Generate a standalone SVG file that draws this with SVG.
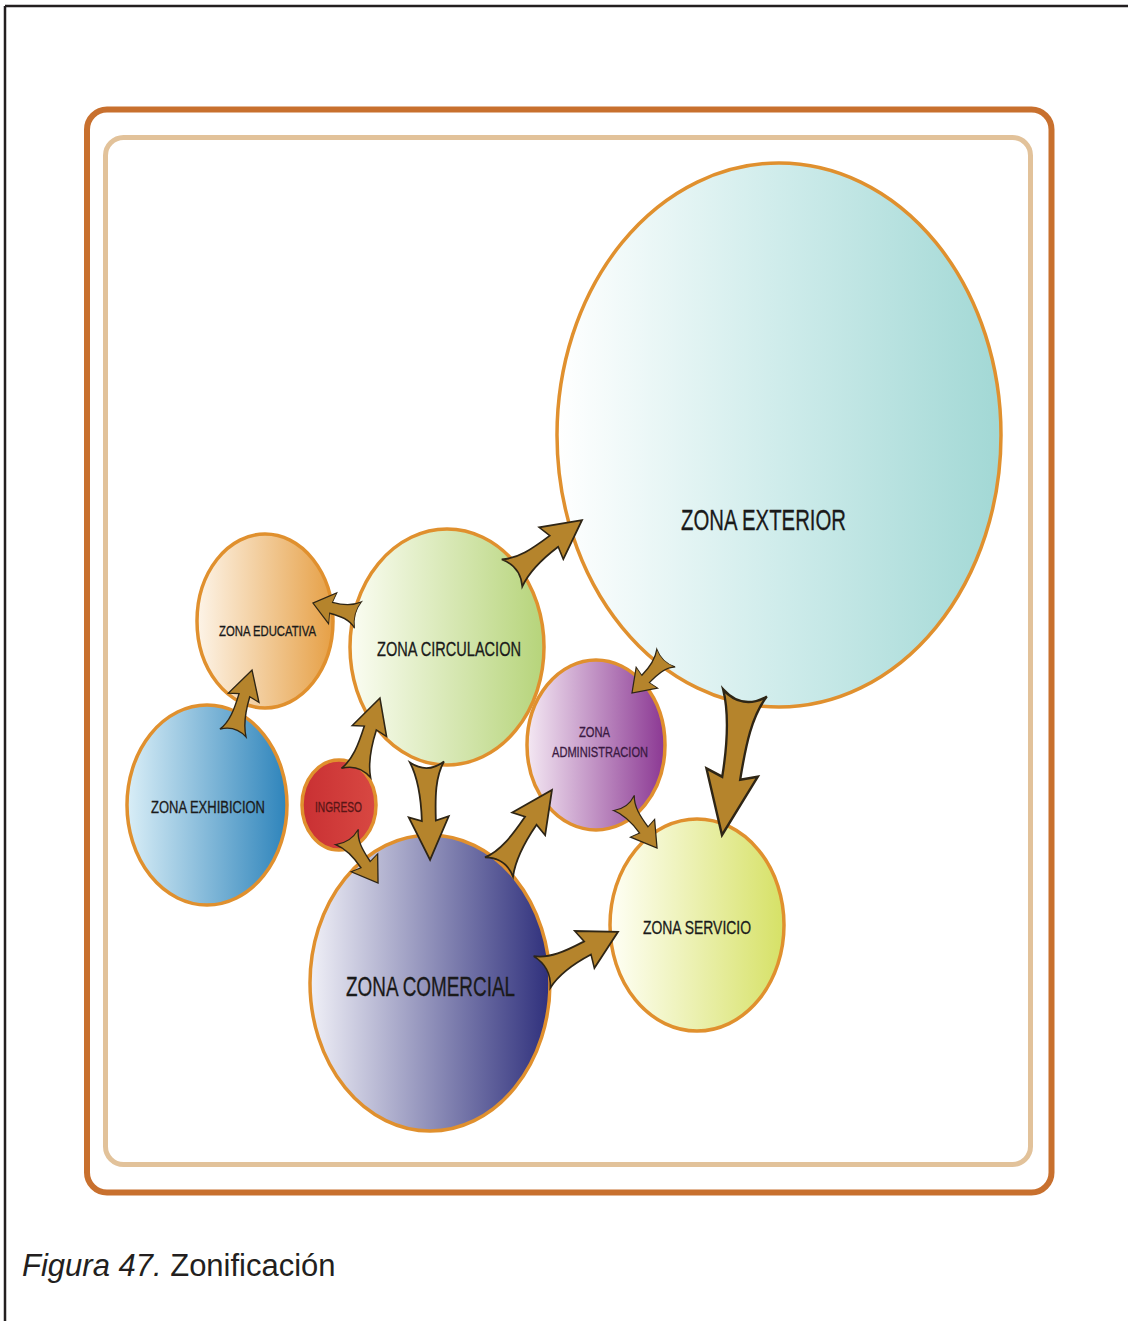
<svg xmlns="http://www.w3.org/2000/svg" xmlns:xlink="http://www.w3.org/1999/xlink" width="1128" height="1321" viewBox="0 0 1128 1321">
<style>
.zone{stroke:#e0902e;stroke-width:3.5}
.lbl{font-family:"Liberation Sans",Arial,sans-serif;fill:#1a1a1a;stroke:#1a1a1a;stroke-width:0.3;text-anchor:start}
.arr{fill:#b5842c;stroke:#2e2515;stroke-width:1.8;stroke-linejoin:miter;vector-effect:non-scaling-stroke}
.cap{font-family:"Liberation Sans",Arial,sans-serif;font-size:31px;fill:#231f20}
</style>
<defs>
<linearGradient id="gExt" x1="0" y1="0" x2="1" y2="0"><stop offset="0" stop-color="#ffffff"/><stop offset="0.5" stop-color="#cfeceb"/><stop offset="1" stop-color="#a2d8d5"/></linearGradient>
<linearGradient id="gCir" x1="0" y1="0" x2="1" y2="0"><stop offset="0" stop-color="#fbfdf3"/><stop offset="1" stop-color="#b6d47a"/></linearGradient>
<linearGradient id="gEdu" x1="0" y1="0" x2="1" y2="0"><stop offset="0" stop-color="#fdf4e8"/><stop offset="1" stop-color="#e6a046"/></linearGradient>
<linearGradient id="gExh" x1="0" y1="0" x2="1" y2="0"><stop offset="0" stop-color="#d9eef7"/><stop offset="1" stop-color="#2e84bb"/></linearGradient>
<linearGradient id="gIng" x1="0" y1="0" x2="1" y2="0"><stop offset="0" stop-color="#c93033"/><stop offset="1" stop-color="#d84842"/></linearGradient>
<linearGradient id="gAdm" x1="0" y1="0" x2="1" y2="0"><stop offset="0" stop-color="#f4e8f3"/><stop offset="1" stop-color="#8b3893"/></linearGradient>
<linearGradient id="gCom" x1="0" y1="0" x2="1" y2="0"><stop offset="0" stop-color="#f0f0f7"/><stop offset="1" stop-color="#2f307c"/></linearGradient>
<linearGradient id="gSer" x1="0" y1="0" x2="1" y2="0"><stop offset="0" stop-color="#fffff6"/><stop offset="1" stop-color="#d6e166"/></linearGradient>
<path id="arrow" d="M0,-17 C15,-8 35,-7 60,-7 L56,-20 L100,0 L56,20 L60,7 C35,7 15,10 0,17 C8,6 8,-6 0,-17 Z"/>
</defs>
<rect width="1128" height="1321" fill="#ffffff"/>
<g id="page-border" fill="none" stroke="#231f20" stroke-width="2.5">
<line x1="5" y1="6" x2="1128" y2="6"/>
<line x1="5" y1="6" x2="5" y2="1321"/>
</g>
<g id="frame" fill="none">
<rect x="87" y="109.5" width="964.5" height="1083" rx="20" stroke="#c8702e" stroke-width="6"/>
<rect x="105.5" y="137.5" width="925" height="1027" rx="18" stroke="#e2c29a" stroke-width="5"/>
</g>
<g id="zona-exterior">
<ellipse class="zone" cx="779" cy="435" rx="222" ry="272" fill="url(#gExt)"/>
<text class="lbl" x="681" y="530" font-size="30" textLength="165" lengthAdjust="spacingAndGlyphs">ZONA EXTERIOR</text>
</g>
<g id="zona-circulacion">
<ellipse class="zone" cx="447" cy="647" rx="97" ry="118" fill="url(#gCir)"/>
<text class="lbl" x="377" y="656" font-size="21" textLength="144" lengthAdjust="spacingAndGlyphs">ZONA CIRCULACION</text>
</g>
<g id="zona-educativa">
<ellipse class="zone" cx="265" cy="621" rx="68" ry="87" fill="url(#gEdu)"/>
<text class="lbl" x="219" y="636" font-size="14.5" textLength="97" lengthAdjust="spacingAndGlyphs">ZONA EDUCATIVA</text>
</g>
<g id="zona-exhibicion">
<ellipse class="zone" cx="207" cy="805" rx="80" ry="100" fill="url(#gExh)"/>
<text class="lbl" x="151" y="813" font-size="17" textLength="114" lengthAdjust="spacingAndGlyphs">ZONA EXHIBICION</text>
</g>
<g id="ingreso">
<ellipse class="zone" cx="339" cy="805" rx="37" ry="45" fill="url(#gIng)"/>
<text class="lbl" x="315" y="812" font-size="15" style="fill:#5a1616;stroke:#5a1616" textLength="47" lengthAdjust="spacingAndGlyphs">INGRESO</text>
</g>
<g id="zona-administracion">
<ellipse class="zone" cx="596" cy="745" rx="69" ry="85" fill="url(#gAdm)"/>
<text class="lbl" x="579" y="737" font-size="14.5" style="fill:#3a1a42;stroke:#3a1a42" textLength="31" lengthAdjust="spacingAndGlyphs">ZONA</text>
<text class="lbl" x="552" y="757" font-size="14.5" style="fill:#3a1a42;stroke:#3a1a42" textLength="96" lengthAdjust="spacingAndGlyphs">ADMINISTRACION</text>
</g>
<g id="zona-comercial">
<ellipse class="zone" cx="430" cy="983" rx="120" ry="148" fill="url(#gCom)"/>
<text class="lbl" x="346" y="996" font-size="28" textLength="169" lengthAdjust="spacingAndGlyphs">ZONA COMERCIAL</text>
</g>
<g id="zona-servicio">
<ellipse class="zone" cx="697" cy="925" rx="87" ry="106" fill="url(#gSer)"/>
<text class="lbl" x="643" y="934" font-size="18" textLength="108" lengthAdjust="spacingAndGlyphs">ZONA SERVICIO</text>
</g>
<g id="connectors">
<use class="arr" xlink:href="#arrow" href="#arrow" transform="translate(512,573) rotate(-37.1) scale(0.878,1)"/>
<use class="arr" xlink:href="#arrow" href="#arrow" transform="translate(358,615) rotate(-165.1) scale(0.466,0.8)"/>
<use class="arr" xlink:href="#arrow" href="#arrow" transform="translate(233,733) rotate(-73.2) scale(0.658,0.8)"/>
<use class="arr" xlink:href="#arrow" href="#arrow" transform="translate(356,773) rotate(-72.3) scale(0.787,0.9)"/>
<use class="arr" xlink:href="#arrow" href="#arrow" transform="translate(427,762) rotate(88.2) scale(0.98,1)"/>
<use class="arr" xlink:href="#arrow" href="#arrow" transform="translate(347,837) rotate(56) scale(0.555,0.8)"/>
<use class="arr" xlink:href="#arrow" href="#arrow" transform="translate(499,867) rotate(-55.5) scale(0.935,1)"/>
<use class="arr" xlink:href="#arrow" href="#arrow" transform="translate(624,803) rotate(53.7) scale(0.558,0.75)"/>
<use class="arr" xlink:href="#arrow" href="#arrow" transform="translate(542,972) rotate(-27.8) scale(0.859,1.05)"/>
<use class="arr" xlink:href="#arrow" href="#arrow" transform="translate(745,693) rotate(99.2) scale(1.439,1.3)"/>
<use class="arr" xlink:href="#arrow" href="#arrow" transform="translate(666,658) rotate(134.2) scale(0.488,0.75)"/>
</g>
<g id="caption">
<text class="cap" x="22" y="1276"><tspan font-style="italic">Figura 47.</tspan> Zonificación</text>
</g>
</svg>
